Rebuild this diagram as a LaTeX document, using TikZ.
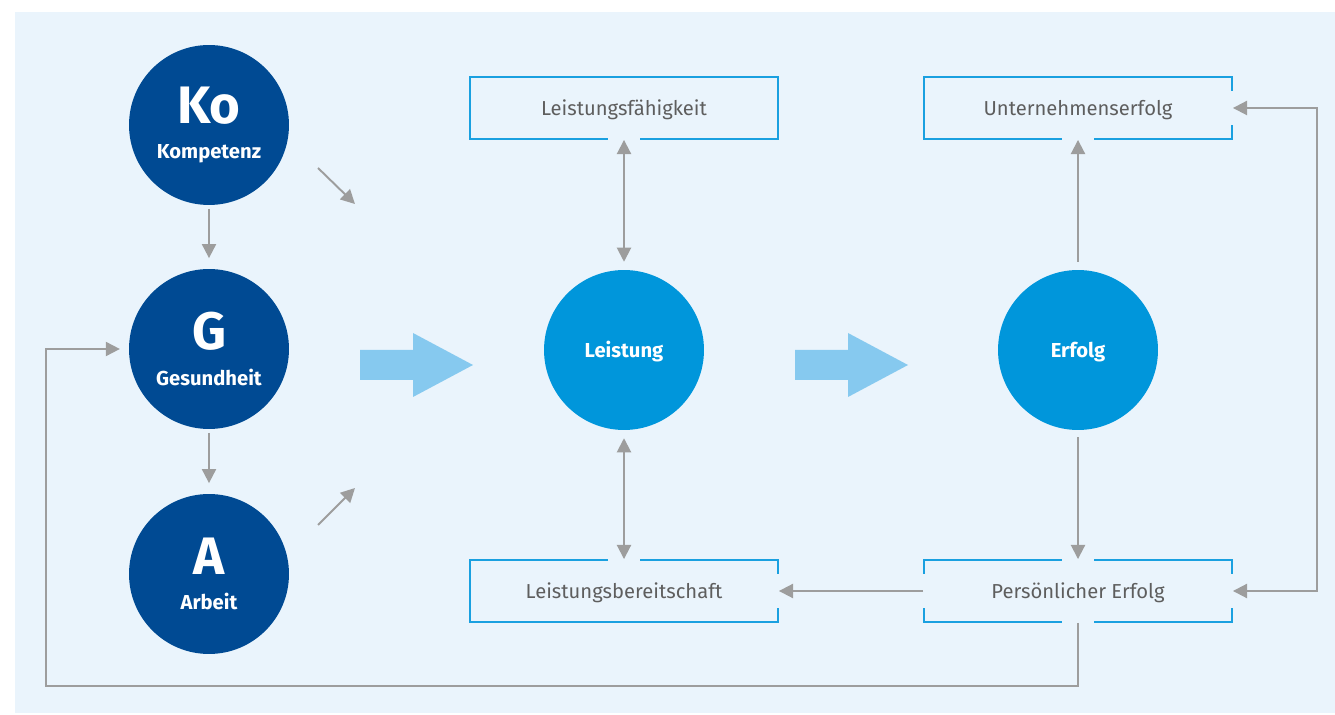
\documentclass[tikz,border=0pt]{standalone}
\usepackage{fontspec}
\setmainfont{Fira Sans}
\usetikzlibrary{arrows.meta, positioning, calc}

\definecolor{bgblue}{HTML}{EAF4FC}
\definecolor{darkblue}{HTML}{004A93}
\definecolor{midblue}{HTML}{0096DB}
\definecolor{lightblue}{HTML}{86C9EF}
\definecolor{frameblue}{HTML}{1AA0E0}
\definecolor{arrowgray}{HTML}{9D9D9D}
\definecolor{textgray}{HTML}{5E5E5E}

\begin{document}
\begin{tikzpicture}[
  x=0.02cm, y=-0.02cm,
  font=\fontsize{11.5}{13}\selectfont,
  factor/.style={circle, fill=darkblue, minimum size=3.2cm, inner sep=0pt,
                 align=center, text=white},
  result/.style={circle, fill=midblue, minimum size=3.2cm, inner sep=0pt,
                 text height=9pt, text depth=0pt,
                 text=white, font=\fontsize{11.5}{13}\selectfont\bfseries},
  frame/.style={draw=frameblue, line width=1.1pt, minimum width=6.16cm,
                minimum height=1.24cm, text height=9pt, text depth=0pt,
                text=textgray},
  gap/.style={draw=bgblue, line width=3pt},
  conn/.style={draw=arrowgray, line width=1.1pt,
               -{Triangle[length=8pt, width=8pt]}},
  both/.style={conn, {Triangle[length=8pt, width=8pt]}-{Triangle[length=8pt, width=8pt]}},
  bigarrow/.style={fill=lightblue}
]

\useasboundingbox (0,0) rectangle (1335,715);
\fill[bgblue] (15,12) rectangle (1335,713);

%% Influencing factors
\node[factor] (ko) at (209,125)
  {{\fontsize{30}{30}\selectfont\bfseries Ko}\\[7pt]{\bfseries Kompetenz}};
\node[factor] (g)  at (209,349)
  {{\fontsize{30}{30}\selectfont\bfseries G}\\[7pt]{\bfseries Gesundheit}};
\node[factor] (a)  at (209,574)
  {{\fontsize{30}{30}\selectfont\bfseries A}\\[7pt]{\bfseries Arbeit}};

%% Central circles
\node[result] (leistung) at (624,350)  {Leistung};
\node[result] (erfolg)   at (1078,350) {Erfolg};

%% Boxes
\node[frame] (lf) at (624,108)  {Leistungsfähigkeit};
\node[frame] (lb) at (624,591)  {Leistungsbereitschaft};
\node[frame] (ue) at (1078,108) {Unternehmenserfolg};
\node[frame] (pe) at (1078,591) {Persönlicher Erfolg};

%% Openings in the box frames
\draw[gap, shift={(lf.south)}] (-16,0) -- (16,0);
\draw[gap, shift={(lb.north)}] (-16,0) -- (16,0);
\draw[gap, shift={(lb.east)}]  (0,-17) -- (0,17);
\draw[gap, shift={(ue.south)}] (-16,0) -- (16,0);
\draw[gap, shift={(ue.east)}]  (0,-17) -- (0,17);
\draw[gap, shift={(pe.north)}] (-16,0) -- (16,0);
\draw[gap, shift={(pe.south)}] (-16,0) -- (16,0);
\draw[gap, shift={(pe.west)}]  (0,-17) -- (0,17);
\draw[gap, shift={(pe.east)}]  (0,-17) -- (0,17);

%% Big arrows
\fill[bigarrow, shift={(360,365)}]
  (0,-15) -- (53,-15) -- (53,-32) -- (113,0) -- (53,32) -- (53,15) -- (0,15) -- cycle;
\fill[bigarrow, shift={(795,365)}]
  (0,-15) -- (53,-15) -- (53,-32) -- (113,0) -- (53,32) -- (53,15) -- (0,15) -- cycle;

%% Connectors
\draw[conn, shorten <=2pt, shorten >=6pt] (ko) -- (g);
\draw[conn, shorten <=2pt, shorten >=6pt] (g) -- (a);

\coordinate (kotail) at (318,168);
\coordinate (kohead) at (355,204);
\coordinate (atail)  at (318,525);
\coordinate (ahead)  at (355,488);
\draw[conn] (kotail) -- (kohead);
\draw[conn] (atail) -- (ahead);

\draw[both, shorten >=4.5pt] (lf) -- (leistung);
\draw[both, shorten <=4.5pt] (leistung) -- (lb);
\draw[conn, shorten <=4.5pt] (erfolg) -- (ue);
\draw[conn, shorten <=4pt] (erfolg) -- (pe);
\draw[conn] (pe) -- (lb);

%% Feedback loops
\coordinate (loopr)  at (1317,350);
\coordinate (loopbl) at (46,686);
\draw[both] (ue.east) -| (loopr) |- (pe.east);
\draw[conn, shorten >=5pt] (pe.south) |- (loopbl) |- (g.west);

\end{tikzpicture}
\end{document}
